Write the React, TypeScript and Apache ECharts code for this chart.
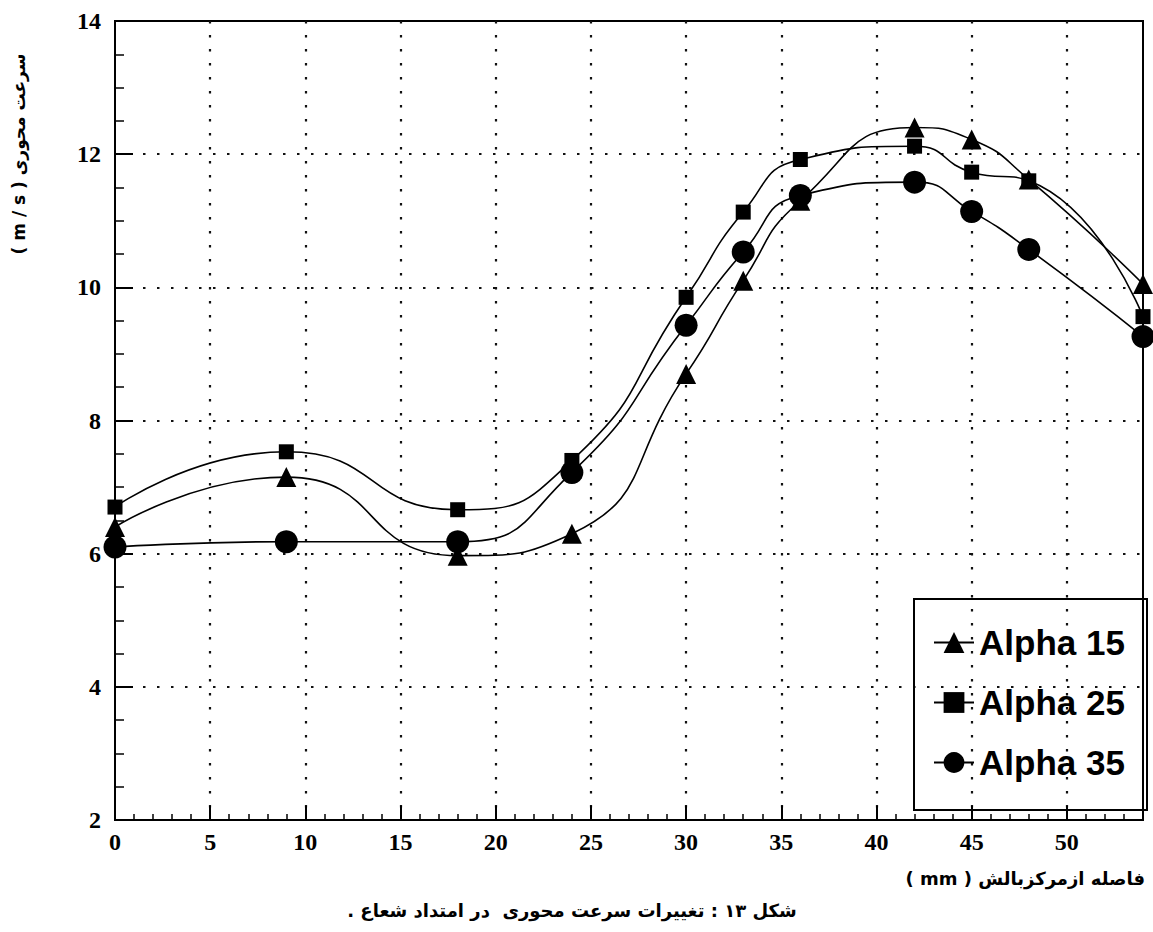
import React, { useEffect, useRef } from "react";
import * as echarts from "echarts";

const xValues = [0, 9, 18, 24, 30, 33, 36, 42, 45, 48, 54];
const alpha15 = [6.4, 7.15, 5.97, 6.3, 8.7, 10.1, 11.3, 12.4, 12.22, 11.62, 10.05];
const alpha25 = [6.7, 7.53, 6.66, 7.4, 9.85, 11.13, 11.92, 12.12, 11.73, 11.6, 9.56];
const alpha35 = [6.1, 6.18, 6.18, 7.22, 9.43, 10.53, 11.38, 11.58, 11.14, 10.57, 9.26];
const seriesNames = ["Alpha 15", "Alpha 25", "Alpha 35"];
const xAxisName = "( mm ) فاصله ازمرکزبالش";
const yAxisName = "( m / s ) سرعت محوری";
const caption = ". شکل ۱۳ : تغییرات سرعت محوری  در امتداد شعاع";

const pairs = (ys: number[]) => xValues.map((x, i) => [x, ys[i]]);

export default function App() {
  const ref = useRef<HTMLDivElement>(null);
  useEffect(() => {
    document.body.style.margin = "0";
    const chart = echarts.init(ref.current!, null, { renderer: "svg" });
    const labelFont = {
      color: "#000",
      fontFamily: "Liberation Serif",
      fontWeight: "bold" as const,
      fontSize: 24,
    };
    const dotted = { color: "#111", width: 2.2, type: [2.5, 11.5] as any };
    const lineStyle = { color: "#000", width: 1.6 };
    const mk = (name: string, data: number[], symbol: string, size: number) => ({
      name,
      type: "line",
      data: pairs(data),
      smooth: 0.55,
      symbol,
      symbolSize: size,
      showAllSymbol: true,
      lineStyle,
      itemStyle: { color: "#000" },
      z: 3,
    });
    chart.setOption({
      animation: false,
      backgroundColor: "#fff",
      grid: {
        left: 115,
        top: 21,
        width: 1028,
        height: 799,
        show: true,
        borderColor: "#000",
        borderWidth: 2,
        backgroundColor: "transparent",
      },
      xAxis: {
        type: "value",
        min: 0,
        max: 54,
        interval: 5,
        axisLine: { show: true, lineStyle: { color: "#000", width: 2 } },
        axisTick: { show: true, inside: true, length: 14, lineStyle: { color: "#000", width: 2 } },
        minorTick: { show: true, splitNumber: 5, length: 6, lineStyle: { color: "#000", width: 1.5 } },
        axisLabel: { ...labelFont, margin: 10, showMaxLabel: false },
        splitLine: { show: true, showMinLine: false, showMaxLine: false, lineStyle: dotted },
      },
      yAxis: {
        type: "value",
        min: 2,
        max: 14,
        interval: 2,
        axisLine: { show: true, lineStyle: { color: "#000", width: 2 } },
        axisTick: { show: true, inside: true, length: 18, lineStyle: { color: "#000", width: 2 } },
        minorTick: { show: true, splitNumber: 4, length: 9, lineStyle: { color: "#000", width: 1.5 } },
        axisLabel: { ...labelFont, margin: 14 },
        splitLine: { show: true, showMinLine: false, showMaxLine: false, lineStyle: dotted },
      },
      legend: {
        orient: "vertical",
        left: 928,
        top: 620,
        itemWidth: 40,
        itemHeight: 26,
        itemGap: 25,
        data: seriesNames,
        textStyle: {
          color: "#000",
          fontFamily: "Liberation Sans",
          fontWeight: "bold",
          fontSize: 35,
          padding: [0, 0, 0, 0],
        },
      },
      graphic: [
        {
          type: "rect",
          shape: { x: 914, y: 599, width: 233, height: 211 },
          style: { fill: "none", stroke: "#000", lineWidth: 2 },
          z: 10,
        },
        {
          type: "text",
          x: 19,
          y: 154,
          rotation: Math.PI / 2,
          style: {
            text: yAxisName,
            fill: "#000",
            font: "bold 17px 'DejaVu Sans'",
            align: "center",
            verticalAlign: "middle",
          },
        },
        {
          type: "text",
          x: 1145,
          y: 878,
          style: {
            text: xAxisName,
            fill: "#000",
            font: "bold 18px 'DejaVu Sans'",
            align: "right",
            verticalAlign: "middle",
          },
        },
        {
          type: "text",
          x: 572,
          y: 910,
          style: {
            text: caption,
            fill: "#000",
            font: "bold 18px 'DejaVu Sans'",
            align: "center",
            verticalAlign: "middle",
          },
        },
      ],
      series: [
        mk(seriesNames[0], alpha15, "triangle", 20),
        mk(seriesNames[1], alpha25, "rect", 15),
        mk(seriesNames[2], alpha35, "circle", 23),
      ],
    });
    return () => chart.dispose();
  }, []);
  return <div ref={ref} style={{ position: "fixed", left: 0, top: 0, width: 1153, height: 932 }} />;
}
